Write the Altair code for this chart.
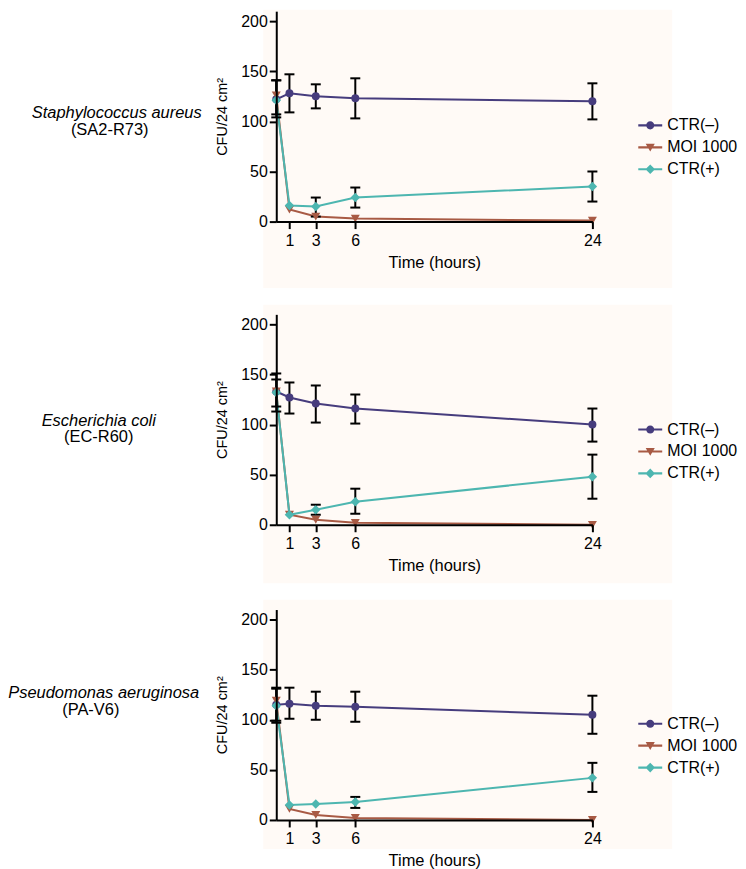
import altair as alt
import pandas as pd

FONT = "Liberation Sans, Arial, Helvetica, sans-serif"

times = [0, 1, 3, 6, 24]
series_names = ["CTR(–)", "MOI 1000", "CTR(+)"]
series_colors = ["#463C7D", "#A85A44", "#4DB6B0"]
series_shapes = ["circle", "triangle-down", "diamond"]
series_sizes = [64, 81, 90]
species = ["Staphylococcus aureus", "Escherichia coli", "Pseudomonas aeruginosa"]
strains = ["(SA2-R73)", "(EC-R60)", "(PA-V6)"]
x_ticks = [1, 3, 6, 24]
y_ticks = [0, 50, 100, 150, 200]

# Staphylococcus aureus
sa_neg_mean = [122, 128, 125, 123, 120]
sa_neg_lo = [104, 109, 113, 103, 102]
sa_neg_hi = [141, 147, 137, 143, 138]
sa_moi_mean = [126, 12, 5, 3, 1]
sa_moi_lo = [126, 12, 5, 3, 1]
sa_moi_hi = [126, 12, 5, 3, 1]
sa_pos_mean = [121, 16, 15, 24, 35]
sa_pos_lo = [107, 16, 5, 14, 20]
sa_pos_hi = [141, 16, 24, 34, 50]

# Escherichia coli
ec_neg_mean = [133, 127, 121, 116, 100]
ec_neg_lo = [118, 111, 102, 101, 83]
ec_neg_hi = [151, 142, 139, 130, 116]
ec_moi_mean = [133, 10, 5, 2, 0]
ec_moi_lo = [133, 10, 5, 2, 0]
ec_moi_hi = [133, 10, 5, 2, 0]
ec_pos_mean = [132, 10, 15, 23, 48]
ec_pos_lo = [113, 10, 10, 11, 26]
ec_pos_hi = [145, 10, 20, 36, 70]

# Pseudomonas aeruginosa
pa_neg_mean = [115, 116, 114, 113, 105]
pa_neg_lo = [99, 101, 100, 98, 86]
pa_neg_hi = [132, 132, 128, 128, 124]
pa_moi_mean = [119, 11, 5, 2, 0]
pa_moi_lo = [119, 11, 5, 2, 0]
pa_moi_hi = [119, 11, 5, 2, 0]
pa_pos_mean = [114, 15, 16, 18, 42]
pa_pos_lo = [97, 15, 16, 12, 28]
pa_pos_hi = [131, 15, 16, 23, 57]

panels = [
    [(sa_neg_mean, sa_neg_lo, sa_neg_hi), (sa_moi_mean, sa_moi_lo, sa_moi_hi), (sa_pos_mean, sa_pos_lo, sa_pos_hi)],
    [(ec_neg_mean, ec_neg_lo, ec_neg_hi), (ec_moi_mean, ec_moi_lo, ec_moi_hi), (ec_pos_mean, ec_pos_lo, ec_pos_hi)],
    [(pa_neg_mean, pa_neg_lo, pa_neg_hi), (pa_moi_mean, pa_moi_lo, pa_moi_hi), (pa_pos_mean, pa_pos_lo, pa_pos_hi)],
]

records = []
for p, panel in enumerate(panels):
    for s, (mean, lo, hi) in enumerate(panel):
        for i, t in enumerate(times):
            records.append({"panel": p, "series": series_names[s], "time": t,
                            "mean": mean[i], "lo": lo[i], "hi": hi[i]})
df = pd.DataFrame(records)

# legend symbols: a line with the marker on it (normalized [-1, 1])
legend_paths = [
    "M-1,-0.09L1,-0.09L1,0.09L-1,0.09Z M0.34,0A0.34,0.34,0,1,1,-0.34,0A0.34,0.34,0,1,1,0.34,0Z",
    "M-1,-0.09L1,-0.09L1,0.09L-1,0.09Z M-0.38,-0.3L0.38,-0.3L0,0.36Z",
    "M-1,-0.09L1,-0.09L1,0.09L-1,0.09Z M0,-0.4L0.4,0L0,0.4L-0.4,0Z",
]

xs = alt.Scale(domain=[0, 24], nice=False, zero=False)
ys = alt.Scale(domain=[0, 210], nice=False, zero=False)
xaxis = alt.Axis(values=x_ticks, title="Time (hours)", titleFontSize=16.5,
                 labelPadding=4, titlePadding=6, format="d", zindex=1)
yaxis = alt.Axis(values=y_ticks, title="CFU/24 cm²", titleFontSize=14.5,
                 labelPadding=2, titlePadding=11, format="d", zindex=1)

# per-row layout settings (pixels relative to the plot area)
row_layout = [
    dict(frame_top=-1.5, frame_bottom=277.5, tint_top=-1.5, tint_bottom=277.5,
         l1=(-160, 107.5), l2=(-167, 124.5), legend_y=102.5),
    dict(frame_top=-9.7, frame_bottom=269.6, tint_top=-9.7, tint_bottom=269.6,
         l1=(-178, 111.6), l2=(-178, 128.5), legend_y=103.5),
    dict(frame_top=-9.7, frame_bottom=240, tint_top=-9.7, tint_bottom=240,
         l1=(-173, 89), l2=(-186, 106), legend_y=102.5),
]


def row_chart(p):
    lay = row_layout[p]
    d = df[df.panel == p]
    one = pd.DataFrame({"species": [species[p]], "strain": [strains[p]]})
    x_enc = alt.X("time:Q", scale=xs, axis=xaxis)

    frame = alt.Chart(one).mark_rect(opacity=0).encode(
        x=alt.value(-267), x2=alt.value(455),
        y=alt.value(lay["frame_top"]), y2=alt.value(lay["frame_bottom"]))
    tint = alt.Chart(one).mark_rect(color="#FFFAF6").encode(
        x=alt.value(-13), x2=alt.value(397),
        y=alt.value(lay["tint_top"]), y2=alt.value(lay["tint_bottom"]))
    lab1 = alt.Chart(one).mark_text(
        align="center", baseline="alphabetic", font=FONT, fontSize=16.5,
        fontStyle="italic", color="black").encode(
        text="species:N", x=alt.value(lay["l1"][0]), y=alt.value(lay["l1"][1]))
    lab2 = alt.Chart(one).mark_text(
        align="center", baseline="alphabetic", font=FONT, fontSize=16.5,
        color="black").encode(
        text="strain:N", x=alt.value(lay["l2"][0]), y=alt.value(lay["l2"][1]))

    lines, rules, caps, points = [], [], [], []
    for s, name in enumerate(series_names):
        base = alt.Chart(d).transform_filter(alt.datum.series == name)
        lines.append(base.mark_line(color=series_colors[s], strokeWidth=2).encode(
            x=x_enc, y=alt.Y("mean:Q", scale=ys, axis=yaxis)))
        eb = base.transform_filter("datum.hi > datum.lo")
        rules.append(eb.mark_rule(color="black", strokeWidth=2).encode(
            x=x_enc, y=alt.Y("lo:Q", scale=ys, axis=yaxis), y2="hi:Q"))
        for fld in ["lo", "hi"]:
            caps.append(eb.mark_tick(color="black", orient="horizontal", size=10,
                                     thickness=2, opacity=1).encode(
                x=x_enc, y=alt.Y(f"{fld}:Q", scale=ys, axis=yaxis)))
        points.append(base.mark_point(shape=series_shapes[s], filled=True,
                                      size=series_sizes[s], color=series_colors[s],
                                      opacity=1).encode(
            x=x_enc, y=alt.Y("mean:Q", scale=ys, axis=yaxis)))

    leg = alt.Legend(title=None, orient="none", legendX=363, legendY=lay["legend_y"],
                     symbolSize=576, symbolStrokeWidth=0, symbolOpacity=1,
                     labelFont=FONT, labelFontSize=16, labelColor="black",
                     labelOffset=5, rowPadding=2, padding=0, labelLimit=200)
    legend_layer = alt.Chart(d).transform_filter("false").mark_point(
        filled=True, opacity=1).encode(
        color=alt.Color("series:N", scale=alt.Scale(domain=series_names, range=series_colors), legend=leg),
        shape=alt.Shape("series:N", scale=alt.Scale(domain=series_names, range=legend_paths), legend=leg),
    )

    return alt.layer(frame, tint, lab1, lab2, *lines, *rules, *caps, *points,
                     legend_layer).properties(width=317, height=211)


chart = alt.vconcat(row_chart(0), row_chart(1), row_chart(2), spacing=16, padding=0)
chart = chart.resolve_scale(color="independent", shape="independent").resolve_legend(
    color="independent", shape="independent")
chart = chart.configure_view(stroke=None).configure_axis(
    domainColor="black", domainWidth=2, tickColor="black", tickWidth=2, tickSize=7,
    labelColor="black", labelFont=FONT, labelFontSize=16,
    titleFont=FONT, titleColor="black", titleFontWeight="normal",
    grid=False, labelFlush=False, labelOverlap=False, zindex=1)

chart.save("out.html", embed_options={"renderer": "svg", "actions": False})
